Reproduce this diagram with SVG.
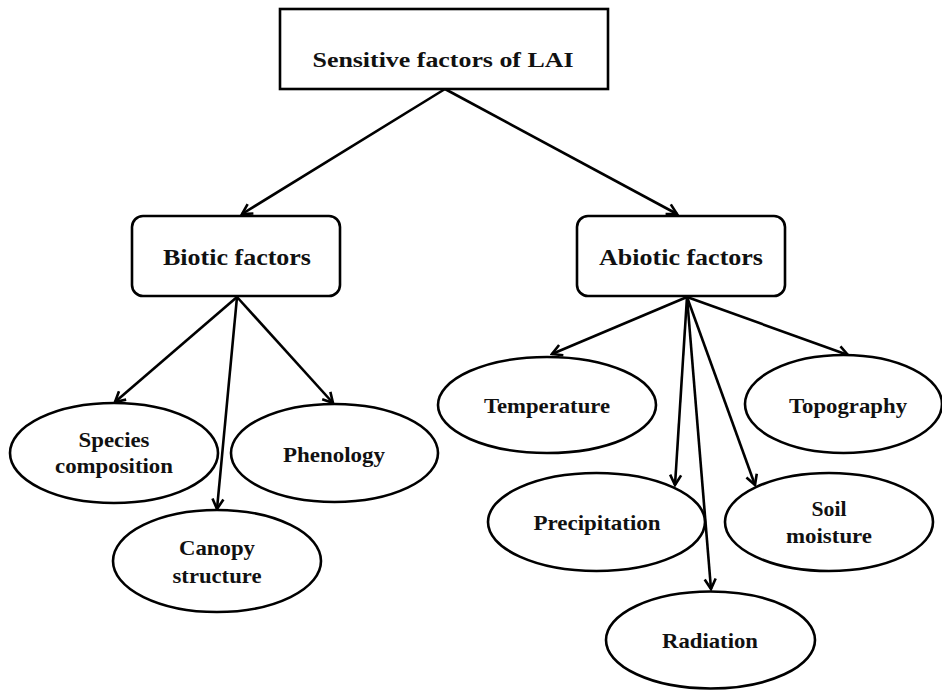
<svg xmlns="http://www.w3.org/2000/svg" width="942" height="690" viewBox="0 0 942 690">
<style>
.box{fill:#fff;stroke:#000;stroke-width:2.6}
.el{fill:#fff;stroke:#000;stroke-width:2.6}
.t{font-family:"Liberation Serif","Times New Roman",serif;font-weight:bold;fill:#111;text-anchor:middle}
.t1{font-size:22px}
.t2{font-size:24px}
.t3{font-size:21px}
.c{fill:none;stroke:#000;stroke-width:2.6;marker-end:url(#ah)}
</style>
<defs>
<marker id="ah" markerUnits="userSpaceOnUse" viewBox="0 0 14 14" refX="12" refY="7" markerWidth="14" markerHeight="14" orient="auto">
<path d="M2,1.5 L12,7 L2,12.5" fill="none" stroke="#000" stroke-width="2.6"/>
</marker>
</defs>
<rect width="942" height="690" fill="#fff"/>
<g id="connectors">
<line class="c" x1="445" y1="89" x2="242" y2="214"/>
<line class="c" x1="445" y1="89" x2="677" y2="214"/>
<line class="c" x1="237" y1="297" x2="115" y2="402"/>
<line class="c" x1="237" y1="297" x2="217" y2="509"/>
<line class="c" x1="237" y1="297" x2="333" y2="403"/>
<line class="c" x1="687" y1="297" x2="552" y2="354"/>
<line class="c" x1="687" y1="297" x2="848" y2="355"/>
<line class="c" x1="687" y1="297" x2="675" y2="485"/>
<line class="c" x1="687" y1="297" x2="711" y2="589"/>
<line class="c" x1="687" y1="297" x2="755" y2="485"/>
</g>
<g id="root">
<rect class="box" x="280" y="9" width="328" height="80"/>
<text class="t t1" x="443" y="67" textLength="261" lengthAdjust="spacingAndGlyphs">Sensitive factors of LAI</text>
</g>
<g id="biotic">
<rect class="box" x="132" y="216" width="208" height="80" rx="11"/>
<text class="t t2" x="237" y="265" textLength="148" lengthAdjust="spacingAndGlyphs">Biotic factors</text>
</g>
<g id="abiotic">
<rect class="box" x="577" y="216" width="208" height="80" rx="11"/>
<text class="t t2" x="681" y="265" textLength="164" lengthAdjust="spacingAndGlyphs">Abiotic factors</text>
</g>
<g id="species">
<ellipse class="el" cx="114" cy="453" rx="104" ry="50"/>
<text class="t t3" x="114" y="447" textLength="71" lengthAdjust="spacingAndGlyphs">Species</text>
<text class="t t3" x="114" y="473" textLength="118" lengthAdjust="spacingAndGlyphs">composition</text>
</g>
<g id="phenology">
<ellipse class="el" cx="334.5" cy="453" rx="103.5" ry="49"/>
<text class="t t3" x="334" y="462" textLength="102" lengthAdjust="spacingAndGlyphs">Phenology</text>
</g>
<g id="canopy">
<ellipse class="el" cx="217" cy="561" rx="104" ry="51"/>
<text class="t t3" x="217" y="555" textLength="76" lengthAdjust="spacingAndGlyphs">Canopy</text>
<text class="t t3" x="217" y="583" textLength="89" lengthAdjust="spacingAndGlyphs">structure</text>
</g>
<g id="temperature">
<ellipse class="el" cx="547" cy="405" rx="109" ry="48"/>
<text class="t t3" x="547" y="413" textLength="126" lengthAdjust="spacingAndGlyphs">Temperature</text>
</g>
<g id="topography">
<ellipse class="el" cx="843.5" cy="404" rx="98.5" ry="49"/>
<text class="t t3" x="848" y="413" textLength="118" lengthAdjust="spacingAndGlyphs">Topography</text>
</g>
<g id="precipitation">
<ellipse class="el" cx="596.5" cy="522" rx="108.5" ry="49"/>
<text class="t t3" x="597" y="530" textLength="127" lengthAdjust="spacingAndGlyphs">Precipitation</text>
</g>
<g id="soil">
<ellipse class="el" cx="829" cy="522" rx="104" ry="49"/>
<text class="t t3" x="829" y="516" textLength="35" lengthAdjust="spacingAndGlyphs">Soil</text>
<text class="t t3" x="829" y="543" textLength="86" lengthAdjust="spacingAndGlyphs">moisture</text>
</g>
<g id="radiation">
<ellipse class="el" cx="710.5" cy="640" rx="104.5" ry="48.5"/>
<text class="t t3" x="710" y="648" textLength="96" lengthAdjust="spacingAndGlyphs">Radiation</text>
</g>
</svg>
